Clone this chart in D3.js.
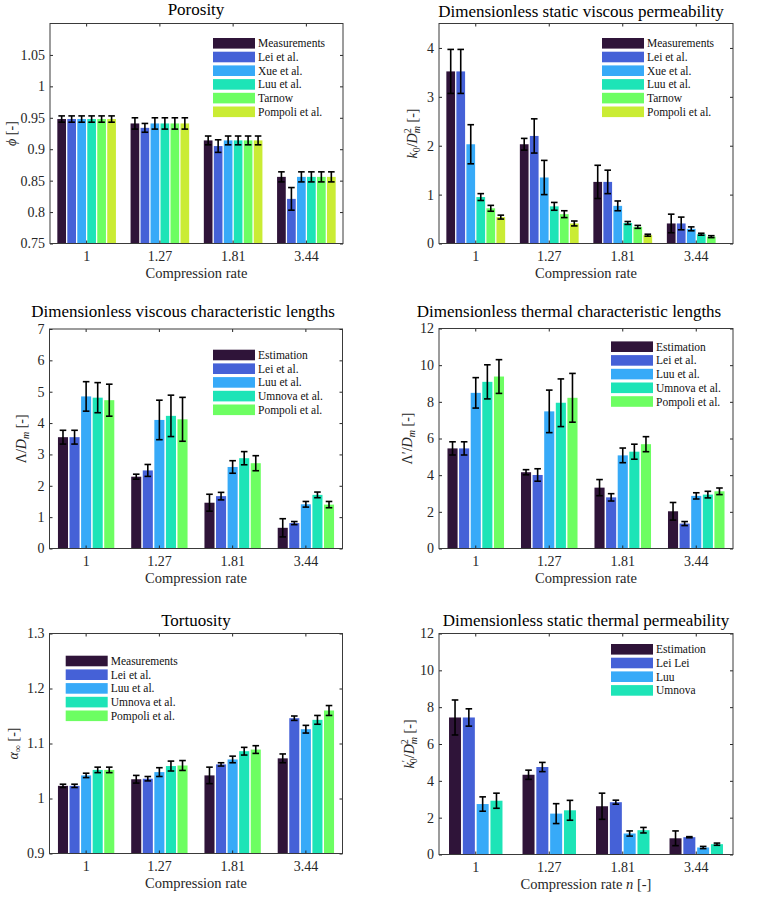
<!DOCTYPE html>
<html>
<head>
<meta charset="utf-8">
<script src="https://cdn.jsdelivr.net/npm/d3@7"></script>
<style>
  body { margin: 0; background: #fff; }
  svg text { font-family: "Liberation Serif", "DejaVu Serif", serif; }
</style>
</head>
<body>
<svg id="fig" width="763" height="906"></svg>
<script>
// compression rates (groups)
const rates = ["1", "1.27", "1.81", "3.44"];
const palette = ["#2f1439", "#4561d7", "#37aaf8", "#1de4b7", "#6dfe62", "#caec34"];

// Porosity
const porosityNames = ["Measurements", "Lei et al.", "Xue et al.", "Luu et al.", "Tarnow", "Pompoli et al."];
const porosityValues = [
  [0.948, 0.941, 0.914, 0.856],
  [0.948, 0.934, 0.905, 0.821],
  [0.948, 0.941, 0.914, 0.856],
  [0.948, 0.941, 0.914, 0.856],
  [0.948, 0.941, 0.914, 0.856],
  [0.948, 0.941, 0.914, 0.856]
];
const porosityErrors = [
  [0.005, 0.009, 0.007, 0.008],
  [0.005, 0.007, 0.010, 0.018],
  [0.005, 0.009, 0.007, 0.008],
  [0.005, 0.009, 0.007, 0.008],
  [0.005, 0.009, 0.007, 0.008],
  [0.005, 0.009, 0.007, 0.008]
];
const porosityTicks = [0.75, 0.8, 0.85, 0.9, 0.95, 1, 1.05];

// static viscous permeability
const viscPermNames = ["Measurements", "Lei et al.", "Xue et al.", "Luu et al.", "Tarnow", "Pompoli et al."];
const viscPermValues = [
  [3.52, 2.03, 1.26, 0.41],
  [3.52, 2.20, 1.26, 0.41],
  [2.03, 1.35, 0.77, 0.30],
  [0.95, 0.76, 0.42, 0.19],
  [0.72, 0.60, 0.34, 0.14],
  [0.54, 0.41, 0.17, null]
];
const viscPermErrors = [
  [0.45, 0.12, 0.34, 0.19],
  [0.45, 0.35, 0.24, 0.13],
  [0.40, 0.35, 0.10, 0.04],
  [0.07, 0.08, 0.03, 0.02],
  [0.06, 0.07, 0.03, 0.02],
  [0.04, 0.05, 0.02, null]
];
const viscPermTicks = [0, 1, 2, 3, 4];

// viscous characteristic length
const viscLenNames = ["Estimation", "Lei et al.", "Luu et al.", "Umnova et al.", "Pompoli et al."];
const viscLenValues = [
  [3.55, 2.29, 1.46, 0.66],
  [3.55, 2.49, 1.67, 0.81],
  [4.85, 4.10, 2.60, 1.41],
  [4.81, 4.23, 2.88, 1.71],
  [4.73, 4.12, 2.72, 1.40]
];
const viscLenErrors = [
  [0.22, 0.08, 0.27, 0.29],
  [0.22, 0.19, 0.12, 0.05],
  [0.47, 0.63, 0.20, 0.09],
  [0.48, 0.66, 0.21, 0.09],
  [0.51, 0.70, 0.24, 0.10]
];
const viscLenTicks = [0, 1, 2, 3, 4, 5, 6, 7];

// thermal characteristic length
const thermLenNames = ["Estimation", "Lei et al.", "Luu et al.", "Umnova et al.", "Pompoli et al."];
const thermLenValues = [
  [5.46, 4.16, 3.32, 2.03],
  [5.46, 4.01, 2.79, 1.36],
  [8.49, 7.48, 5.08, 2.87],
  [9.09, 7.95, 5.28, 2.94],
  [9.38, 8.22, 5.69, 3.12]
];
const thermLenErrors = [
  [0.36, 0.14, 0.44, 0.48],
  [0.36, 0.34, 0.20, 0.11],
  [0.83, 1.16, 0.40, 0.17],
  [0.93, 1.30, 0.41, 0.18],
  [0.92, 1.33, 0.41, 0.18]
];
const thermLenTicks = [0, 2, 4, 6, 8, 10, 12];

// tortuosity
const tortNames = ["Measurements", "Lei et al.", "Luu et al.", "Umnova et al.", "Pompoli et al."];
const tortValues = [
  [1.023, 1.035, 1.042, 1.073],
  [1.023, 1.036, 1.062, 1.146],
  [1.042, 1.048, 1.071, 1.126],
  [1.052, 1.059, 1.086, 1.143],
  [1.052, 1.060, 1.089, 1.160]
];
const tortErrors = [
  [0.003, 0.007, 0.015, 0.008],
  [0.003, 0.004, 0.003, 0.004],
  [0.004, 0.008, 0.006, 0.007],
  [0.005, 0.009, 0.007, 0.008],
  [0.005, 0.009, 0.007, 0.009]
];
const tortTicks = [0.9, 1, 1.1, 1.2, 1.3];

// static thermal permeability
const thermPermNames = ["Estimation", "Lei Lei", "Luu", "Umnova"];
const thermPermValues = [
  [7.44, 4.33, 2.62, 0.88],
  [7.44, 4.75, 2.84, 0.94],
  [2.74, 2.22, 1.14, 0.38],
  [2.92, 2.40, 1.32, 0.56]
];
const thermPermErrors = [
  [0.95, 0.25, 0.71, 0.40],
  [0.47, 0.25, 0.11, 0.03],
  [0.39, 0.54, 0.14, 0.06],
  [0.41, 0.54, 0.15, 0.06]
];
const thermPermTicks = [0, 2, 4, 6, 8, 10, 12];

const svg = d3.select("#fig");

// y label pieces: [text, italic, dy, size, dx]
function mathLabel(sel, parts) {
  parts.forEach(p => {
    sel.append("tspan")
      .text(p[0])
      .attr("font-style", p[1] ? "italic" : null)
      .attr("dy", p[2] || 0)
      .attr("dx", p[4] || 0)
      .attr("font-size", p[3] || 14);
  });
}

function panel(o) {
  const g = svg.append("g");
  const x = d3.scaleBand().domain(rates).range([o.x0, o.x1]);
  const n = o.names.length;
  const gw = Math.min(0.8, n / (n + 1.5)) * x.bandwidth();
  const xs = d3.scaleBand().domain(d3.range(n)).range([-gw / 2, gw / 2]).paddingInner(0.13);
  const y = d3.scaleLinear().domain(o.domain).range([o.y1, o.y0]);

  // bars
  o.values.forEach((vals, s) => {
    const rows = vals.map((v, i) => ({ v: v, e: o.errors[s][i], c: rates[i] })).filter(d => d.v != null);
    const cx = d => x(d.c) + x.bandwidth() / 2 + xs(s) + xs.bandwidth() / 2;

    g.selectAll(null).data(rows).enter().append("rect")
      .attr("x", d => cx(d) - xs.bandwidth() / 2)
      .attr("width", xs.bandwidth())
      .attr("y", d => y(d.v))
      .attr("height", d => y(o.domain[0]) - y(d.v))
      .attr("fill", palette[s]);

    const eb = g.selectAll(null).data(rows).enter().append("g")
      .attr("stroke", "#000").attr("stroke-width", 1.6);
    eb.append("line")
      .attr("x1", cx).attr("x2", cx)
      .attr("y1", d => y(d.v - d.e)).attr("y2", d => y(d.v + d.e));
    eb.append("line")
      .attr("x1", d => cx(d) - 3.3).attr("x2", d => cx(d) + 3.3)
      .attr("y1", d => y(d.v + d.e)).attr("y2", d => y(d.v + d.e));
    eb.append("line")
      .attr("x1", d => cx(d) - 3.3).attr("x2", d => cx(d) + 3.3)
      .attr("y1", d => y(d.v - d.e)).attr("y2", d => y(d.v - d.e));
  });

  // axes, ticks pointing inward
  const fmt = d3.format("~g");
  const left = g.append("g").attr("transform", `translate(${o.x0},0)`)
    .call(d3.axisLeft(y).tickValues(o.ticks).tickSize(-3).tickPadding(5).tickFormat(fmt));
  const right = g.append("g").attr("transform", `translate(${o.x1},0)`)
    .call(d3.axisRight(y).tickValues(o.ticks).tickSize(-3).tickFormat(""));
  const bottom = g.append("g").attr("transform", `translate(0,${o.y1})`)
    .call(d3.axisBottom(x).tickSize(-3).tickPadding(0));
  const top = g.append("g").attr("transform", `translate(0,${o.y0})`)
    .call(d3.axisTop(x).tickSize(-3).tickFormat(""));
  [left, right, bottom, top].forEach(a => {
    a.attr("font-family", null).attr("font-size", null);
    a.select(".domain").remove();
    a.selectAll(".tick line").attr("stroke", "#262626");
    a.selectAll("text").attr("fill", "#262626").attr("font-size", 14);
  });
  bottom.selectAll("text").attr("dy", null).attr("y", 17);

  g.append("rect")
    .attr("x", o.x0).attr("y", o.y0)
    .attr("width", o.x1 - o.x0).attr("height", o.y1 - o.y0)
    .attr("fill", "none").attr("stroke", "#3a3a3a").attr("stroke-width", 1);

  // title
  g.append("text")
    .attr("x", o.titleX).attr("y", o.titleY)
    .attr("text-anchor", "middle").attr("font-size", 17)
    .text(o.title);

  // x label
  const xl = g.append("text")
    .attr("x", (o.x0 + o.x1) / 2).attr("y", o.y1 + 34.5)
    .attr("text-anchor", "middle").attr("fill", "#262626");
  mathLabel(xl, o.xlabel);

  // y label
  const yl = g.append("text")
    .attr("transform", `translate(${o.x0 - o.ylabelGap},${(o.y0 + o.y1) / 2}) rotate(-90)`)
    .attr("text-anchor", "middle").attr("fill", "#262626");
  mathLabel(yl, o.ylabel);

  // legend
  const lg = g.append("g").attr("transform", `translate(${o.legX},${o.legY})`);
  o.names.forEach((name, s) => {
    const row = lg.append("g").attr("transform", `translate(0,${s * 13.7})`);
    row.append("rect").attr("x", 0).attr("y", -5.3).attr("width", 42).attr("height", 10.6)
      .attr("fill", palette[s]);
    row.append("text").attr("x", 45).attr("y", 4).attr("font-size", 11.5).attr("fill", "#111").text(name);
  });
}

const rateLabel = [["Compression rate", false, 0, 14.5]];

panel({
  title: "Porosity", titleX: 196, titleY: 15,
  x0: 50, x1: 343, y0: 23.5, y1: 243.5, domain: [0.75, 1.1], ticks: porosityTicks,
  names: porosityNames, values: porosityValues, errors: porosityErrors,
  legX: 213, legY: 43.3, ylabelGap: 34,
  xlabel: rateLabel,
  ylabel: [["\u03D5", true], [" [-]", false]]
});

panel({
  title: "Dimensionless static viscous permeability", titleX: 581, titleY: 16.5,
  x0: 439, x1: 733, y0: 23.5, y1: 243.5, domain: [0, 4.5], ticks: viscPermTicks,
  names: viscPermNames, values: viscPermValues, errors: viscPermErrors,
  legX: 602, legY: 43.3, ylabelGap: 22,
  xlabel: rateLabel,
  ylabel: [["k", true], ["0", false, 3, 10], ["/", false, -3], ["D", true],
           ["2", false, -6, 10], ["m", true, 9, 10, -5], [" [-]", false, -3]]
});

panel({
  title: "Dimensionless viscous characteristic lengths", titleX: 183, titleY: 316.5,
  x0: 49.5, x1: 342.5, y0: 329, y1: 548.5, domain: [0, 7], ticks: viscLenTicks,
  names: viscLenNames, values: viscLenValues, errors: viscLenErrors,
  legX: 213, legY: 355, ylabelGap: 24,
  xlabel: rateLabel,
  ylabel: [["\u039B/", false], ["D", true], ["m", true, 3, 10], [" [-]", false, -3]]
});

panel({
  title: "Dimensionless thermal characteristic lengths", titleX: 569, titleY: 316.5,
  x0: 439, x1: 733, y0: 328.5, y1: 548.5, domain: [0, 12], ticks: thermLenTicks,
  names: thermLenNames, values: thermLenValues, errors: thermLenErrors,
  legX: 611, legY: 346.7, ylabelGap: 27,
  xlabel: rateLabel,
  ylabel: [["\u039B\u2032/", false], ["D", true], ["m", true, 3, 10], [" [-]", false, -3]]
});

panel({
  title: "Tortuosity", titleX: 196, titleY: 626,
  x0: 49.5, x1: 342.5, y0: 633.5, y1: 853.5, domain: [0.9, 1.3], ticks: tortTicks,
  names: tortNames, values: tortValues, errors: tortErrors,
  legX: 65.7, legY: 661, ylabelGap: 32,
  xlabel: rateLabel,
  ylabel: [["\u03B1", true], ["\u221E", false, 3, 10], [" [-]", false, -3]]
});

panel({
  title: "Dimensionless static thermal permeability", titleX: 586, titleY: 626,
  x0: 439, x1: 733, y0: 633.5, y1: 854.5, domain: [0, 12], ticks: thermPermTicks,
  names: thermPermNames, values: thermPermValues, errors: thermPermErrors,
  legX: 611, legY: 649.3, ylabelGap: 25,
  xlabel: [["Compression rate ", false, 0, 14.5], ["n", true, 0, 14.5], [" [-]", false, 0, 14.5]],
  ylabel: [["k", true], ["\u2032", false, -5, 10], ["0", false, 8, 10, -3], ["/", false, -3], ["D", true],
           ["2", false, -6, 10], ["m", true, 9, 10, -5], [" [-]", false, -3]]
});
</script>
</body>
</html>
